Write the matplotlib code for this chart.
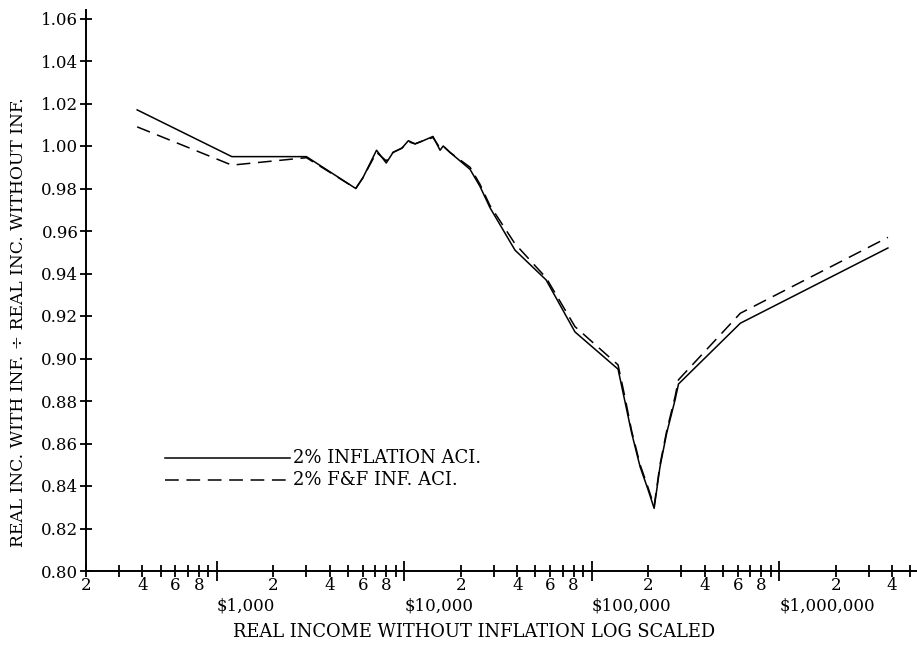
import matplotlib
matplotlib.use('Agg')
import matplotlib.pyplot as plt
from matplotlib.ticker import FixedLocator, FuncFormatter

# ---- data ----
income = [375, 1200, 3000, 5500, 6000, 7100, 8000, 8700, 9700, 10500, 11400,
          12600, 14200, 15500, 16100, 17500, 22400, 25300, 28600, 38900,
          57000, 81300, 138000, 150000, 163000, 181000, 200000, 215000,
          231000, 251000, 278000, 290000, 620000, 3800000]
infl_aci = [1.017, 0.995, 0.995, 0.980, 0.985, 0.998, 0.992, 0.997, 0.999,
            1.0025, 1.001, 1.0025, 1.0045, 0.998, 1.000, 0.997, 0.989, 0.981,
            0.971, 0.951, 0.937, 0.9125, 0.895, 0.880, 0.865, 0.849, 0.838,
            0.8295, 0.849, 0.865, 0.8805, 0.888, 0.9166, 0.952]
ff_aci = [1.009, 0.991, 0.9945, 0.980, 0.985, 0.997, 0.993, 0.997, 0.999,
          1.002, 1.001, 1.0025, 1.004, 0.999, 1.000, 0.997, 0.990, 0.982,
          0.972, 0.954, 0.938, 0.915, 0.897, 0.882, 0.866, 0.850, 0.839,
          0.8305, 0.850, 0.866, 0.882, 0.890, 0.9213, 0.957]

series_labels = ["2% INFLATION ACI.", "2% F&F INF. ACI."]
y_ticks = [0.80, 0.82, 0.84, 0.86, 0.88, 0.90, 0.92, 0.94, 0.96, 0.98,
           1.00, 1.02, 1.04, 1.06]
decades = [1e3, 1e4, 1e5, 1e6]
decade_labels = ["$1,000", "$10,000", "$100,000", "$1,000,000"]
minor_mults = [2, 3, 4, 5, 6, 7, 8, 9]
labelled_mults = [2, 4, 6, 8]
x_title = "REAL INCOME WITHOUT INFLATION LOG SCALED"
y_title = "REAL INC. WITH INF. \u00f7 REAL INC. WITHOUT INF."

plt.rcParams['font.family'] = ['DejaVu Serif', 'Liberation Serif']

W, H = 917, 647
fig = plt.figure(figsize=(W / 100, H / 100), dpi=100)
ax_left, ax_right = 86, 917
ax_bottom, ax_top = 571, 10
ax = fig.add_axes([ax_left / W, (H - ax_bottom) / H,
                   (ax_right - ax_left) / W, (ax_bottom - ax_top) / H])

ax.plot(income, infl_aci, color='black', lw=1.1, label=series_labels[0])
ax.plot(income, ff_aci, color='black', lw=1.1, dashes=(9, 5),
        label=series_labels[1])

ax.set_xscale('log')
ax.set_xlim(200, 10 ** 6.735)
ax.set_ylim(0.80, 1.064)

for s in ['top', 'right']:
    ax.spines[s].set_visible(False)
for s in ['left', 'bottom']:
    ax.spines[s].set_linewidth(1.4)

# y ticks
ax.set_yticks(y_ticks)
ax.set_yticklabels([f"{v:.2f}" for v in y_ticks])
ax.tick_params(axis='y', direction='inout', length=9, width=1.3,
               labelsize=12, pad=1)

# x ticks
minor_pos = []
for d in [100, 1e3, 1e4, 1e5, 1e6]:
    for m in minor_mults:
        v = m * d
        if 200 <= v <= 10 ** 6.735:
            minor_pos.append(v)
ax.xaxis.set_major_locator(FixedLocator(decades))
ax.xaxis.set_major_formatter(FuncFormatter(
    lambda v, p: decade_labels[decades.index(v)] if v in decades else ""))
ax.xaxis.set_minor_locator(FixedLocator(minor_pos))


def minor_fmt(v, p):
    m = round(v / 10 ** int(f"{v:e}".split('e')[1]))
    return str(m) if m in labelled_mults else ""


ax.xaxis.set_minor_formatter(FuncFormatter(minor_fmt))
ax.tick_params(axis='x', which='major', direction='inout', length=14,
               width=1.3, labelsize=12, pad=12)
ax.tick_params(axis='x', which='minor', direction='inout', length=8,
               width=1.3, labelsize=12, pad=0)
for lab in ax.get_xticklabels():
    lab.set_horizontalalignment('left')

# legend drawn as lines + text at the reference spot
leg_x0, leg_x1 = 165 / W, 290 / W
for i, (yy, st) in enumerate([(458, '-'), (480, '--')]):
    fy = (H - yy) / H
    ln = plt.Line2D([leg_x0, leg_x1], [fy, fy], transform=fig.transFigure,
                    color='black', lw=1.1,
                    linestyle='-' if st == '-' else (0, (9, 5)))
    fig.add_artist(ln)
    fig.text(293 / W, fy, series_labels[i], ha='left', va='center',
             fontsize=13)

fig.text(474 / W, (H - 632) / H, x_title, ha='center', va='center',
         fontsize=12.9)
fig.text(19 / W, (H - 322) / H, y_title, ha='center', va='center',
         rotation=90, fontsize=12.3)

fig.savefig('out.png', dpi=100)
